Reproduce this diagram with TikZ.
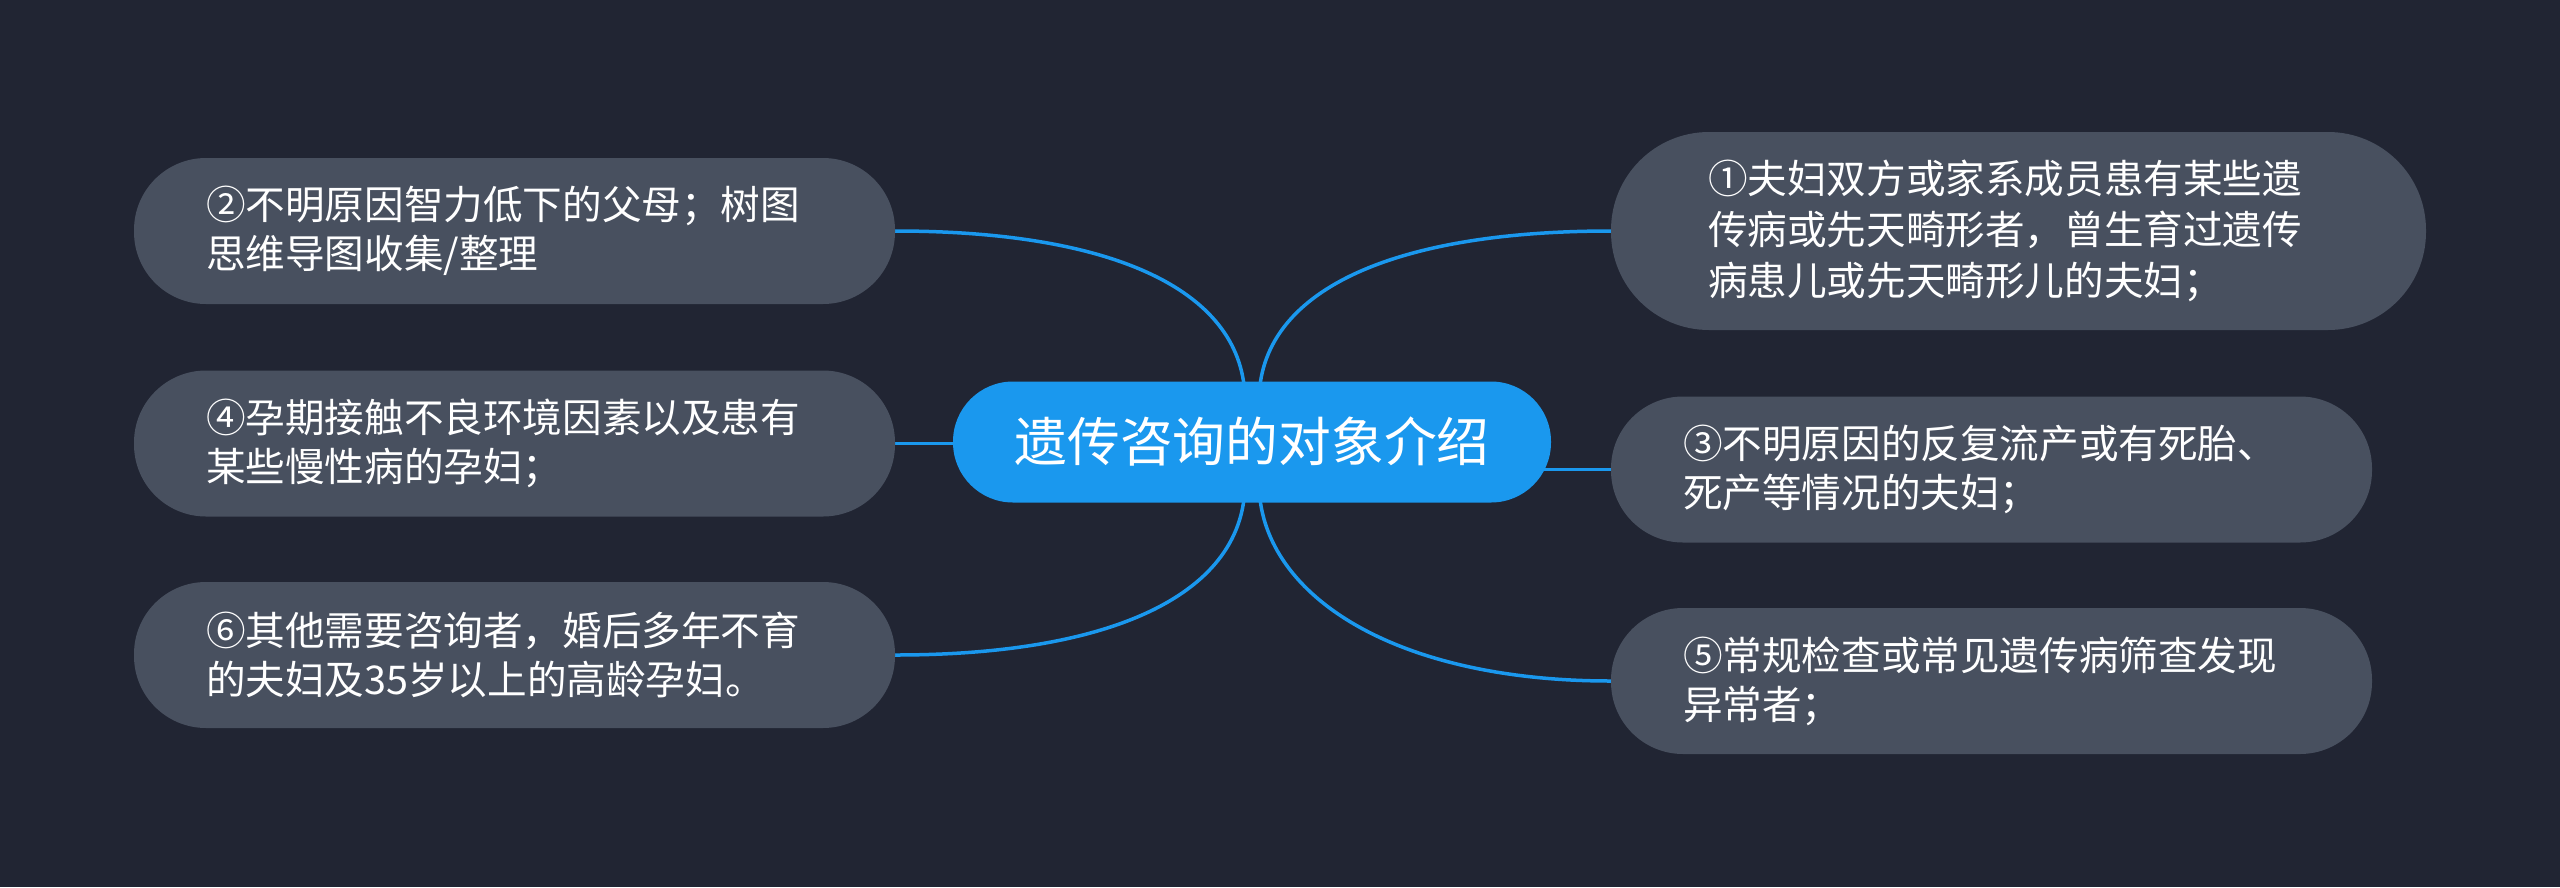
\documentclass[tikz,border=0pt]{standalone}
\usepackage{fontspec}
\newfontfamily\cjk{Noto Sans CJK SC}
\usetikzlibrary{backgrounds}
\definecolor{bg}{RGB}{33,37,51}
\definecolor{nodefill}{RGB}{72,80,95}
\definecolor{mainblue}{RGB}{26,152,238}
\tikzset{
  leaf/.style={rectangle, fill=nodefill, text=white, minimum width=761pt, minimum height=146pt,
    rounded corners=72pt, inner xsep=72pt, inner ysep=0pt, text width=617pt, align=left,
    font=\cjk\fontsize{39.6pt}{49pt}\selectfont},
  bigleaf/.style={leaf, minimum width=815pt, minimum height=198pt, rounded corners=98pt,
    inner xsep=97pt, text width=621pt, font=\cjk\fontsize{39.6pt}{51pt}\selectfont},
  root/.style={rectangle, fill=mainblue, text=white, minimum width=598pt, minimum height=121pt,
    rounded corners=60pt, inner sep=0pt, font=\cjk\fontsize{52.8pt}{60pt}\selectfont},
  edge/.style={draw=mainblue, line width=3.5pt}
}
\begin{document}
\begin{tikzpicture}[x=1pt,y=-1pt]
\useasboundingbox (0,0) rectangle (2560,887);
\node[root] (C) at (1252,442) {遗传咨询的对象介绍};
\node[leaf] (n2) at (514.5,231) {②不明原因智力低下的父母；树图\\思维导图收集/整理};
\node[leaf] (n4) at (514.5,443.5) {④孕期接触不良环境因素以及患有\\某些慢性病的孕妇；};
\node[leaf] (n6) at (514.5,655) {⑥其他需要咨询者，婚后多年不育\\的夫妇及35岁以上的高龄孕妇。};
\node[bigleaf] (n1) at (2018.5,231) {①夫妇双方或家系成员患有某些遗\\传病或先天畸形者，曾生育过遗传\\病患儿或先天畸形儿的夫妇；};
\node[leaf] (n3) at (1991.5,469.5) {③不明原因的反复流产或有死胎、\\死产等情况的夫妇；};
\node[leaf] (n5) at (1991.5,681) {⑤常规检查或常见遗传病筛查发现\\异常者；};
\begin{scope}[on background layer]
\fill[bg] (0,0) rectangle (2560,887);
\draw[edge] ([xshift=-7pt,yshift=-20pt]C.north) .. controls +(0,-110) and +(220,0) .. (n2.east);
\draw[edge] ([xshift=7pt,yshift=-20pt]C.north) .. controls +(0,-110) and +(-220,0) .. (n1.west);
\draw[edge] ([xshift=-7pt,yshift=20pt]C.south) .. controls +(0,110) and +(220,0) .. (n6.east);
\draw[edge] ([xshift=7pt,yshift=20pt]C.south) .. controls +(0,110) and +(-220,0) .. (n5.west);
\draw[edge] (C.center |- n4.east) -- (n4.east);
\draw[edge] (C.center |- n3.west) -- (n3.west);
\end{scope}
\end{tikzpicture}
\end{document}
